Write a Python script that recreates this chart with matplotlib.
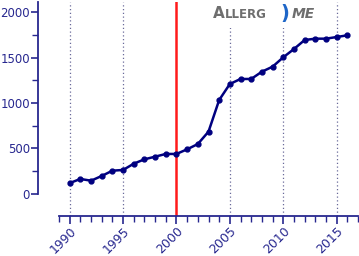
import matplotlib.pyplot as plt
from matplotlib.patches import Rectangle
from matplotlib.ticker import MultipleLocator

# Data
years = list(range(1990, 2017))
counts = [120, 165, 146, 198, 256, 264, 333, 381, 410, 440, 440,
          491, 549, 685, 1033, 1209, 1264, 1264, 1344, 1399, 1502,
          1593, 1692, 1707, 1707, 1725, 1744]
grid_years = [1990, 1995, 2005, 2010, 2015]
marker_year = 2000

navy = '#000080'
ink = '#27278f'

fig = plt.figure(figsize=(3.59, 2.56), dpi=100)
ax = fig.add_axes([59 / 359, 40 / 256, 299 / 359, 214 / 256])

# dotted vertical guides
for yr in grid_years:
    ax.axvline(yr, color='#6a6a9a', linestyle=(0, (1, 2)), linewidth=0.9, zorder=1)
ax.axvline(marker_year, color='#ff1a1a', linewidth=1.8, zorder=2)

ax.plot(years, counts, color=navy, linewidth=1.8, marker='o', markersize=3.5, zorder=3)

ax.set_xlim(1989, 2017)
ax.set_ylim(-242, 2110)

for s in ['top', 'right']:
    ax.spines[s].set_visible(False)
ax.spines['left'].set_position(('outward', 15))
ax.spines['left'].set_bounds(0, 2110)
ax.spines['left'].set_color(ink)
ax.spines['bottom'].set_color(ink)
ax.spines['left'].set_linewidth(1.3)
ax.spines['bottom'].set_linewidth(1.3)

ax.xaxis.set_minor_locator(MultipleLocator(1))
ax.yaxis.set_minor_locator(MultipleLocator(250))
ax.set_yticks([0, 500, 1000, 1500, 2000])
ax.set_xticks([1990, 1995, 2000, 2005, 2010, 2015])

ax.tick_params(axis='both', which='major', direction='out', color=ink, labelcolor=ink,
               width=1.2)
ax.tick_params(axis='x', which='major', length=6, pad=0, labelsize=9)
ax.tick_params(axis='y', which='major', length=5, pad=1, labelsize=8.5)
ax.tick_params(axis='both', which='minor', direction='out', color=ink, width=1.0, length=4)
for lbl in ax.get_xticklabels():
    lbl.set_rotation(45)
    lbl.set_ha('right')
    lbl.set_va('top')
    lbl.set_rotation_mode('anchor')

# logo-like caption on a white patch
fig.patches.append(Rectangle((205 / 359, 1 - 28 / 256), 125 / 359, 28 / 256,
                             transform=fig.transFigure, facecolor='white',
                             edgecolor='none', zorder=5))
fig.text(213 / 359, 1 - 13 / 256, 'A', color='#6e6e6e', fontsize=11, fontweight='bold',
         va='center', ha='left', zorder=6)
fig.text(225 / 359, 1 - 14 / 256, 'LLERG', color='#6e6e6e', fontsize=8.5, fontweight='bold',
         va='center', ha='left', zorder=6)
fig.text(280 / 359, 1 - 14 / 256, ')', color='#1e66c8', fontsize=14, fontweight='bold',
         va='center', ha='left', zorder=6)
fig.text(292 / 359, 1 - 14 / 256, 'ME', color='#6e6e6e', fontsize=10, fontweight='bold',
         style='italic', va='center', ha='left', zorder=6)

fig.savefig('out.png', dpi=100, facecolor='white')
